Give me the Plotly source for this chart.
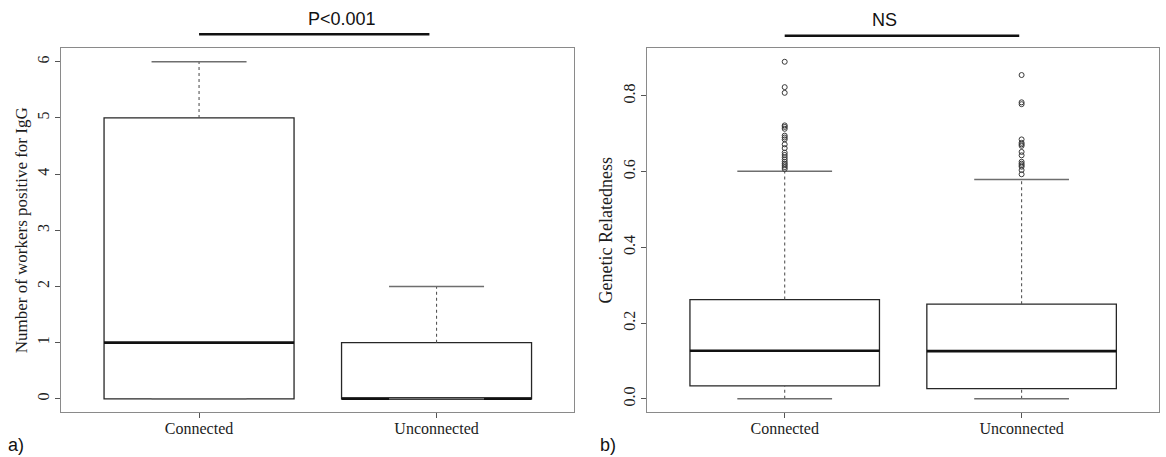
import plotly.graph_objects as go

# ---- data -------------------------------------------------------------
groups = ["Connected", "Unconnected"]
positions = [1, 2]

# a) number of workers positive for IgG
igg_low = [0, 0]
igg_q1 = [0, 0]
igg_median = [1, 0]
igg_q3 = [5, 1]
igg_high = [6, 2]

# b) genetic relatedness
rel_low = [0.0, 0.0]
rel_q1 = [0.034, 0.027]
rel_median = [0.127, 0.126]
rel_q3 = [0.262, 0.250]
rel_high = [0.601, 0.579]
rel_out_connected = [0.890, 0.823, 0.808, 0.722, 0.718, 0.713, 0.695, 0.690,
                     0.685, 0.672, 0.662, 0.650, 0.644, 0.638, 0.632, 0.626,
                     0.621, 0.617, 0.612, 0.607]
rel_out_unconnected = [0.855, 0.783, 0.778, 0.685, 0.676, 0.672, 0.668, 0.652,
                       0.643, 0.626, 0.621, 0.617, 0.613, 0.604, 0.593]

igg_ticks = [0, 1, 2, 3, 4, 5, 6]
rel_ticks = [0.0, 0.2, 0.4, 0.6, 0.8]
rel_ticktext = ["0.0", "0.2", "0.4", "0.6", "0.8"]

# ---- styling ----------------------------------------------------------
BOX_W = 0.8
CAP_W = 0.4
SERIF = "Liberation Serif"
SANS = "Liberation Sans"
FRAME = "#8a8a8a"
TEXT = "#1c1c1c"

fig = go.Figure()


def add_boxplot(xa, ya, low, q1, med, q3, high, outliers):
    # box body
    fig.add_trace(go.Box(
        x=positions, q1=q1, median=med, q3=q3,
        lowerfence=q1, upperfence=q3, width=BOX_W, whiskerwidth=0,
        boxpoints=False, fillcolor="white",
        line=dict(color="#262626", width=1.3),
        xaxis=xa, yaxis=ya, hoverinfo="skip", showlegend=False))
    # thick median bars
    mx, my = [], []
    for p, m in zip(positions, med):
        mx += [p - BOX_W / 2, p + BOX_W / 2, None]
        my += [m, m, None]
    fig.add_trace(go.Scatter(x=mx, y=my, mode="lines",
                             line=dict(color="#111111", width=2.6),
                             xaxis=xa, yaxis=ya, hoverinfo="skip", showlegend=False))
    # dashed whiskers
    wx, wy = [], []
    for p, lo, a, b, hi in zip(positions, low, q1, q3, high):
        wx += [p, p, None, p, p, None]
        wy += [b, hi, None, lo, a, None]
    fig.add_trace(go.Scatter(x=wx, y=wy, mode="lines",
                             line=dict(color="#555555", width=1.1, dash="3px,3px"),
                             xaxis=xa, yaxis=ya, hoverinfo="skip", showlegend=False))
    # staples
    cx, cy = [], []
    for p, lo, hi in zip(positions, low, high):
        cx += [p - CAP_W / 2, p + CAP_W / 2, None, p - CAP_W / 2, p + CAP_W / 2, None]
        cy += [hi, hi, None, lo, lo, None]
    fig.add_trace(go.Scatter(x=cx, y=cy, mode="lines",
                             line=dict(color="#6e6e6e", width=1.6),
                             xaxis=xa, yaxis=ya, hoverinfo="skip", showlegend=False))
    # outlying points
    for p, pts in zip(positions, outliers):
        if pts:
            fig.add_trace(go.Scatter(
                x=[p] * len(pts), y=pts, mode="markers",
                marker=dict(symbol="circle-open", size=5, color="#3a3a3a",
                            line=dict(width=1, color="#3a3a3a")),
                xaxis=xa, yaxis=ya, hoverinfo="skip", showlegend=False))


add_boxplot("x", "y", igg_low, igg_q1, igg_median, igg_q3, igg_high, [[], []])
add_boxplot("x2", "y2", rel_low, rel_q1, rel_median, rel_q3, rel_high,
            [rel_out_connected, rel_out_unconnected])


def padded(lo, hi):
    span = hi - lo
    return [lo - 0.04 * span, hi + 0.04 * span]


x_range = padded(0.5, 2.5)
igg_range = padded(min(igg_low), max(igg_high))
rel_range = padded(min(rel_low), max(rel_out_connected + rel_out_unconnected))

W, H = 1166, 457
y_dom = [1 - 412.3 / H, 1 - 48.3 / H]

axis_common = dict(showline=True, mirror=True, linecolor=FRAME, linewidth=1,
                   showgrid=False, zeroline=False, ticks="outside", ticklen=5,
                   tickcolor="#555555", tickwidth=1,
                   tickfont=dict(family=SERIF, size=16, color=TEXT),
                   automargin=False)

fig.update_layout(
    width=W, height=H,
    margin=dict(l=0, r=0, t=0, b=0),
    paper_bgcolor="white", plot_bgcolor="white",
    xaxis=dict(domain=[61.3 / W, 574.3 / W], range=x_range,
               tickvals=positions, ticktext=groups, anchor="y",
               ticklabelstandoff=-4, **axis_common),
    yaxis=dict(domain=y_dom, range=igg_range, tickvals=igg_ticks, tickangle=-90,
               anchor="x",
               title=dict(text="Number of workers positive for IgG",
                          font=dict(family=SERIF, size=17, color=TEXT), standoff=2),
               **axis_common),
    xaxis2=dict(domain=[647.3 / W, 1159 / W], range=x_range,
                tickvals=positions, ticktext=groups, anchor="y2",
                ticklabelstandoff=-4, **axis_common),
    yaxis2=dict(domain=y_dom, range=rel_range, tickvals=rel_ticks,
                ticktext=rel_ticktext, tickangle=-90, anchor="x2",
                title=dict(text="Genetic Relatedness",
                           font=dict(family=SERIF, size=18, color=TEXT), standoff=3),
                **axis_common),
)

# significance bars and labels
fig.add_shape(type="line", xref="x", yref="paper", x0=1, x1=1.97,
              y0=1 - 34.3 / H, y1=1 - 34.3 / H, line=dict(color="#111111", width=2.5))
fig.add_shape(type="line", xref="x2", yref="paper", x0=1, x1=1.99,
              y0=1 - 35.7 / H, y1=1 - 35.7 / H, line=dict(color="#111111", width=2.5))
fig.add_annotation(text="P&lt;0.001", xref="paper", yref="paper",
                   x=305.8 / W, y=1 - 18.5 / H, yanchor="middle", showarrow=False,
                   font=dict(family=SANS, size=18, color="#111111"))
fig.add_annotation(text="NS", xref="paper", yref="paper",
                   x=898.8 / W, y=1 - 19.5 / H, yanchor="middle", showarrow=False,
                   font=dict(family=SANS, size=18, color="#111111"))

# panel letters
fig.add_annotation(text="a)", xref="paper", yref="paper", x=6 / W, y=1 - 445 / H,
                   xanchor="left", yanchor="middle", showarrow=False,
                   font=dict(family=SANS, size=18, color="#111111"))
fig.add_annotation(text="b)", xref="paper", yref="paper", x=598 / W, y=1 - 445 / H,
                   xanchor="left", yanchor="middle", showarrow=False,
                   font=dict(family=SANS, size=18, color="#111111"))

fig.write_html("out.html")
